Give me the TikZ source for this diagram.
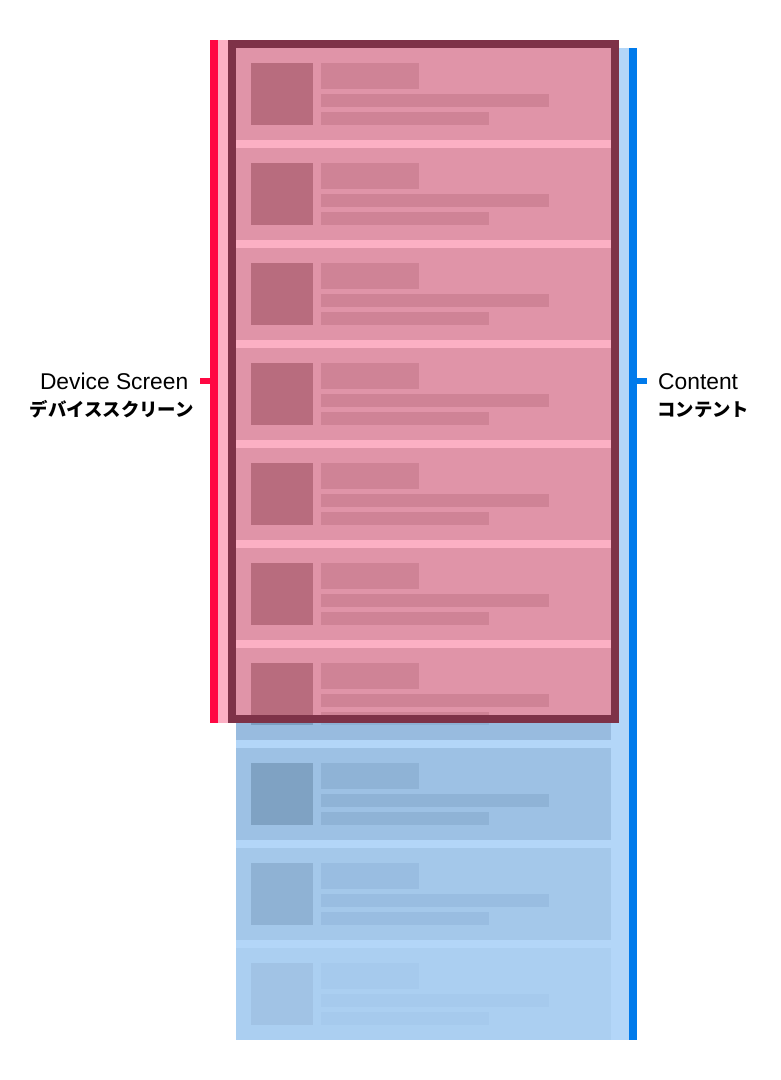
\documentclass[tikz,border=0pt]{standalone}
\usepackage{fontspec}
\setmainfont{Liberation Sans}
\newfontfamily\jpfont{Noto Sans CJK JP}
\definecolor{contentbg}{HTML}{B3D6F8}
\definecolor{bgA}{HTML}{98BBDF}\definecolor{thA}{HTML}{7C9EC1}\definecolor{txA}{HTML}{8DB0D4}
\definecolor{bgB}{HTML}{9DC1E4}\definecolor{thB}{HTML}{7FA2C3}\definecolor{txB}{HTML}{8FB3D6}
\definecolor{bgC}{HTML}{A4C8EA}\definecolor{thC}{HTML}{8FB2D4}\definecolor{txC}{HTML}{99BDE1}
\definecolor{bgD}{HTML}{ABCFF1}\definecolor{thD}{HTML}{A1C3E5}\definecolor{txD}{HTML}{A6CAED}
\definecolor{pinkbg}{HTML}{E094A8}\definecolor{pinkth}{HTML}{B86C7E}\definecolor{pinktx}{HTML}{CF8396}
\definecolor{pinksep}{HTML}{FCB0C4}
\definecolor{framecol}{HTML}{7E3248}
\definecolor{screenred}{HTML}{FF0843}
\definecolor{contentblue}{HTML}{007AEB}
\newcommand{\mycard}[4]{%
  \fill[#2] (236,#1) rectangle (611,#1+92);
  \fill[#3] (251,#1+15) rectangle (313,#1+77);
  \fill[#4] (321,#1+15) rectangle (419,#1+41);
  \fill[#4] (321,#1+46) rectangle (549,#1+59);
  \fill[#4] (321,#1+64) rectangle (489,#1+77);
}
\begin{document}
\begin{tikzpicture}[x=1pt,y=-1pt,
  lbl/.style={inner sep=0pt, font=\fontsize{22.8}{26}\selectfont},
  jlbl/.style={inner sep=0pt, font=\jpfont\bfseries\fontsize{18.4}{22}\selectfont}]
\useasboundingbox (0,0) rectangle (781,1080);
% content background
\fill[contentbg] (236,48) rectangle (629,1040);
% content cards outside the screen
\mycard{648}{bgA}{thA}{txA}
\mycard{748}{bgB}{thB}{txB}
\mycard{848}{bgC}{thC}{txC}
\mycard{948}{bgD}{thD}{txD}
% device screen
\fill[pinksep] (218,40) rectangle (228,723);
\fill[pinksep] (236,48) rectangle (611,715);
\begin{scope}
  \clip (236,48) rectangle (611,715);
  \foreach \k in {0,...,6} {
    \pgfmathsetmacro{\t}{48+100*\k}
    \mycard{\t}{pinkbg}{pinkth}{pinktx}
  }
\end{scope}
\draw[framecol, line width=8pt] (232,44) rectangle (615,719);
% bars and ticks
\fill[screenred] (210,40) rectangle (218,723);
\fill[screenred] (200,378) rectangle (210,384);
\fill[contentblue] (629,48) rectangle (637,1040);
\fill[contentblue] (637,378) rectangle (647,384);
% labels
\node[lbl, anchor=base east] (dev) at (188.5,389) {Device Screen};
\node[jlbl, anchor=base east] (devjp) at (194,416) {デバイススクリーン};
\node[lbl, anchor=base west] (cont) at (658,389) {Content};
\node[jlbl, anchor=base west] (contjp) at (657,416) {コンテント};
\end{tikzpicture}
\end{document}
